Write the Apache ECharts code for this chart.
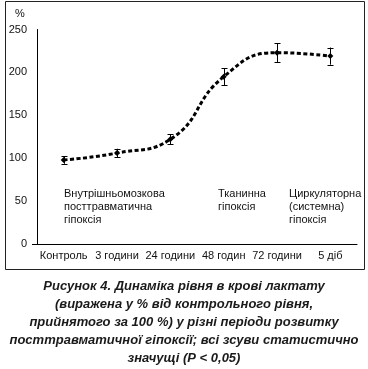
<!DOCTYPE html>
<html><head><meta charset="utf-8">
<script src="https://cdn.jsdelivr.net/npm/echarts@6/dist/echarts.min.js"></script>
<style>html,body{margin:0;padding:0;background:#fff}#c{width:368px;height:369px}</style>
</head><body><div id="c"></div>
<script>
const categories = ['Контроль', '3 години', '24 години', '48 годин', '72 години', '5 діб'];
const values = [98, 106, 122, 195, 223, 219];
const errors = [4.5, 5, 6, 10, 11, 10];
const yTicks = [0, 50, 100, 150, 200, 250];
const phaseLabels = ['Внутрішньомозкова\nпосттравматична\nгіпоксія', 'Тканинна\nгіпоксія', 'Циркуляторна\n(системна)\nгіпоксія'];
const caption = 'Рисунок 4. Динаміка рівня в крові лактату\n(виражена у % від контрольного рівня,\nприйнятого за 100 %) у різні періоди розвитку\nпосттравматичної гіпоксії; всі зсуви статистично\nзначущі (Р < 0,05)';

const font = 'Liberation Sans, Arial, sans-serif';
const chart = echarts.init(document.getElementById('c'), null, {renderer: 'canvas'});
chart.setOption({
  animation: false,
  backgroundColor: '#fff',
  grid: {left: 37, right: 11, top: 29.5, bottom: 125, containLabel: false},
  xAxis: {
    type: 'category', data: categories, boundaryGap: true,
    axisLine: {lineStyle: {color: '#000', width: 1}},
    axisTick: {inside: true, length: 4, lineStyle: {color: '#000'}},
    axisLabel: {color: '#111', fontFamily: font, fontSize: 11, margin: 6, interval: 0}
  },
  yAxis: {
    type: 'value', min: 0, max: 250, interval: 50,
    axisLine: {show: true, lineStyle: {color: '#000', width: 1}},
    axisTick: {show: false},
    splitLine: {show: false},
    axisLabel: {color: '#111', fontFamily: font, fontSize: 11, margin: 10,
      formatter: v => yTicks.includes(v) ? String(v) : ''}
  },
  series: [
    {
      type: 'line', data: values, smooth: 0.5,
      symbol: 'diamond', symbolSize: 6,
      itemStyle: {color: '#000'},
      lineStyle: {color: '#000', width: 3, type: [4, 2.5]},
      z: 3
    },
    {
      type: 'custom',
      data: values.map((v, i) => [i, v - errors[i], v + errors[i]]),
      renderItem: function (params, api) {
        const lo = api.coord([api.value(0), api.value(1)]);
        const hi = api.coord([api.value(0), api.value(2)]);
        const x = Math.round(lo[0]) + 0.5;
        const w = 3;
        const s = {stroke: '#000', lineWidth: 1};
        return {type: 'group', children: [
          {type: 'line', shape: {x1: x, y1: lo[1], x2: x, y2: hi[1]}, style: s},
          {type: 'line', shape: {x1: x - w, y1: Math.round(lo[1]) + 0.5, x2: x + w, y2: Math.round(lo[1]) + 0.5}, style: s},
          {type: 'line', shape: {x1: x - w, y1: Math.round(hi[1]) + 0.5, x2: x + w, y2: Math.round(hi[1]) + 0.5}, style: s}
        ]};
      },
      z: 4
    }
  ],
  graphic: [
    {type: 'rect', shape: {x: 5.5, y: 1.5, width: 359, height: 268}, style: {fill: null, stroke: '#222', lineWidth: 1}, z: 0},
    {type: 'line', shape: {x1: 32, y1: 244.5, x2: 37, y2: 244.5}, style: {stroke: '#000', lineWidth: 1}},
    {type: 'text', left: 15, top: 8, style: {text: '%', font: '11px ' + font, fill: '#111'}},
    {type: 'text', left: 64, top: 187, style: {text: phaseLabels[0], font: '11px ' + font, lineHeight: 13, fill: '#111'}},
    {type: 'text', left: 218, top: 187, style: {text: phaseLabels[1], font: '11px ' + font, lineHeight: 13, fill: '#111'}},
    {type: 'text', left: 289, top: 187, style: {text: phaseLabels[2], font: '11px ' + font, lineHeight: 13, fill: '#111'}},
    {type: 'text', x: 184, y: 278, style: {text: caption, font: 'italic bold 13px ' + font, lineHeight: 17.8, fill: '#1a1a1a', align: 'center', verticalAlign: 'top'}}
  ]
});
</script></body></html>
